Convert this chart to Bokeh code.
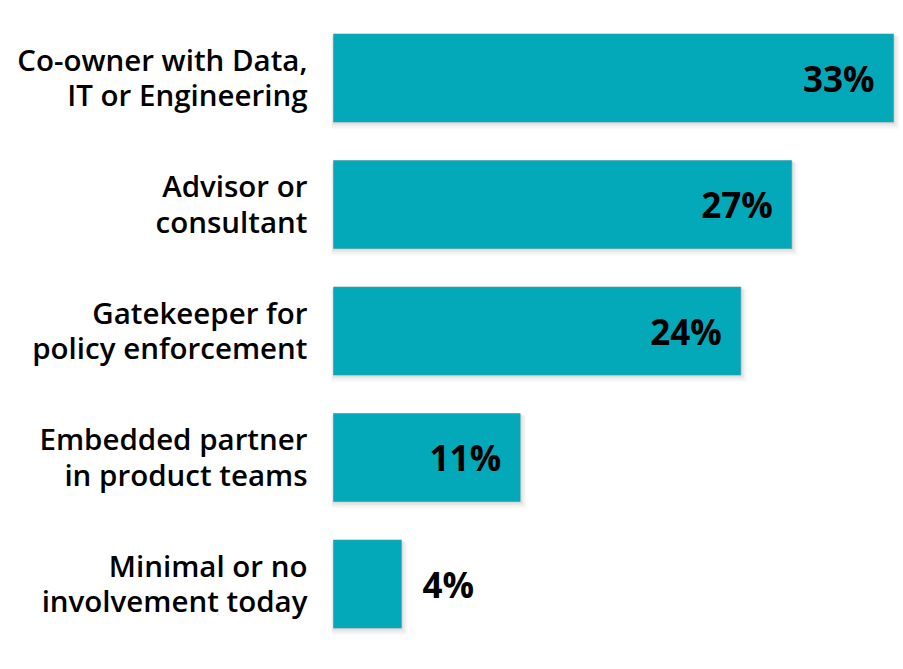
from bokeh.plotting import figure
from bokeh.models import Range1d, ColumnDataSource
from bokeh.core.properties import value
from bokeh.embed import file_html
from bokeh.resources import INLINE

categories = [
    "Co-owner with Data,\nIT or Engineering",
    "Advisor or\nconsultant",
    "Gatekeeper for\npolicy enforcement",
    "Embedded partner\nin product teams",
    "Minimal or no\ninvolvement today",
]
values = [33, 27, 24, 11, 4]
value_labels = ["33%", "27%", "24%", "11%", "4%"]

BAR_COLOR = "#04A9B9"
W, H = 900, 660
px_per_unit = 560 / 33.0
row_px = 126.5
x0 = -333 / px_per_unit
x1 = x0 + W / px_per_unit
y_top = -77.5 / row_px
y_bot = (H - 77.5) / row_px

p = figure(width=W, height=H, output_backend="svg", toolbar_location=None,
           x_range=Range1d(x0, x1), y_range=Range1d(y_bot, y_top),
           min_border=0, outline_line_color=None)
p.axis.visible = False
p.grid.visible = False
p.background_fill_color = "white"
p.border_fill_color = "white"

ys = list(range(len(values)))
bh = 88 / row_px

src = ColumnDataSource(dict(y=ys, v=values, lab=value_labels))

# soft shadow layers
for k, a in [(8, 0.02), (6, 0.03), (4, 0.04), (2, 0.05)]:
    dx = k / px_per_unit
    dy = k / row_px
    p.hbar(y=[y + dy * 0.6 for y in ys], left=[-dx * 0.3] * len(values),
           right=[v + dx * 0.8 for v in values], height=bh + dy * 0.6,
           fill_color="black", fill_alpha=a, line_color=None)

p.hbar(y="y", left=0, right="v", height=bh, source=src,
       fill_color=BAR_COLOR, line_color="#3a9aa6", line_width=0.6)

# value labels
inside = [v >= 8 for v in values]
def pick(flag):
    return ColumnDataSource(dict(
        y=[y for y, i in zip(ys, inside) if i == flag],
        v=[v for v, i in zip(values, inside) if i == flag],
        lab=[l for l, i in zip(value_labels, inside) if i == flag]))
in_src = pick(True)
out_src = pick(False)
p.text(x="v", y="y", text="lab", source=in_src, text_align="right",
       text_baseline="alphabetic", x_offset=-19, y_offset=0,
       text_font=value("Open Sans"), text_font_style="bold",
       text_font_size="35px", text_color="black")
p.text(x="v", y="y", text="lab", source=out_src, text_align="left",
       text_baseline="alphabetic", x_offset=21, y_offset=0,
       text_font=value("Open Sans"), text_font_style="bold",
       text_font_size="35px", text_color="black")

# category labels (two lines each), semibold via font shorthand
line1 = [c.split("\n")[0] for c in categories]
line2 = [c.split("\n")[1] for c in categories]
for lines, off in [(line1, -19), (line2, 16.5)]:
    lsrc = ColumnDataSource(dict(x=[0] * len(ys), y=ys, t=lines,
                                 fs=["600 29.5px"] * len(ys)))
    p.text(x="x", y="y", text="t", source=lsrc, text_align="right",
           text_baseline="alphabetic", x_offset=-26, y_offset=off,
           text_font=value("Open Sans"), text_font_style="normal",
           text_font_size="fs", text_color="black")

open("out.html", "w").write(file_html(p, INLINE))
